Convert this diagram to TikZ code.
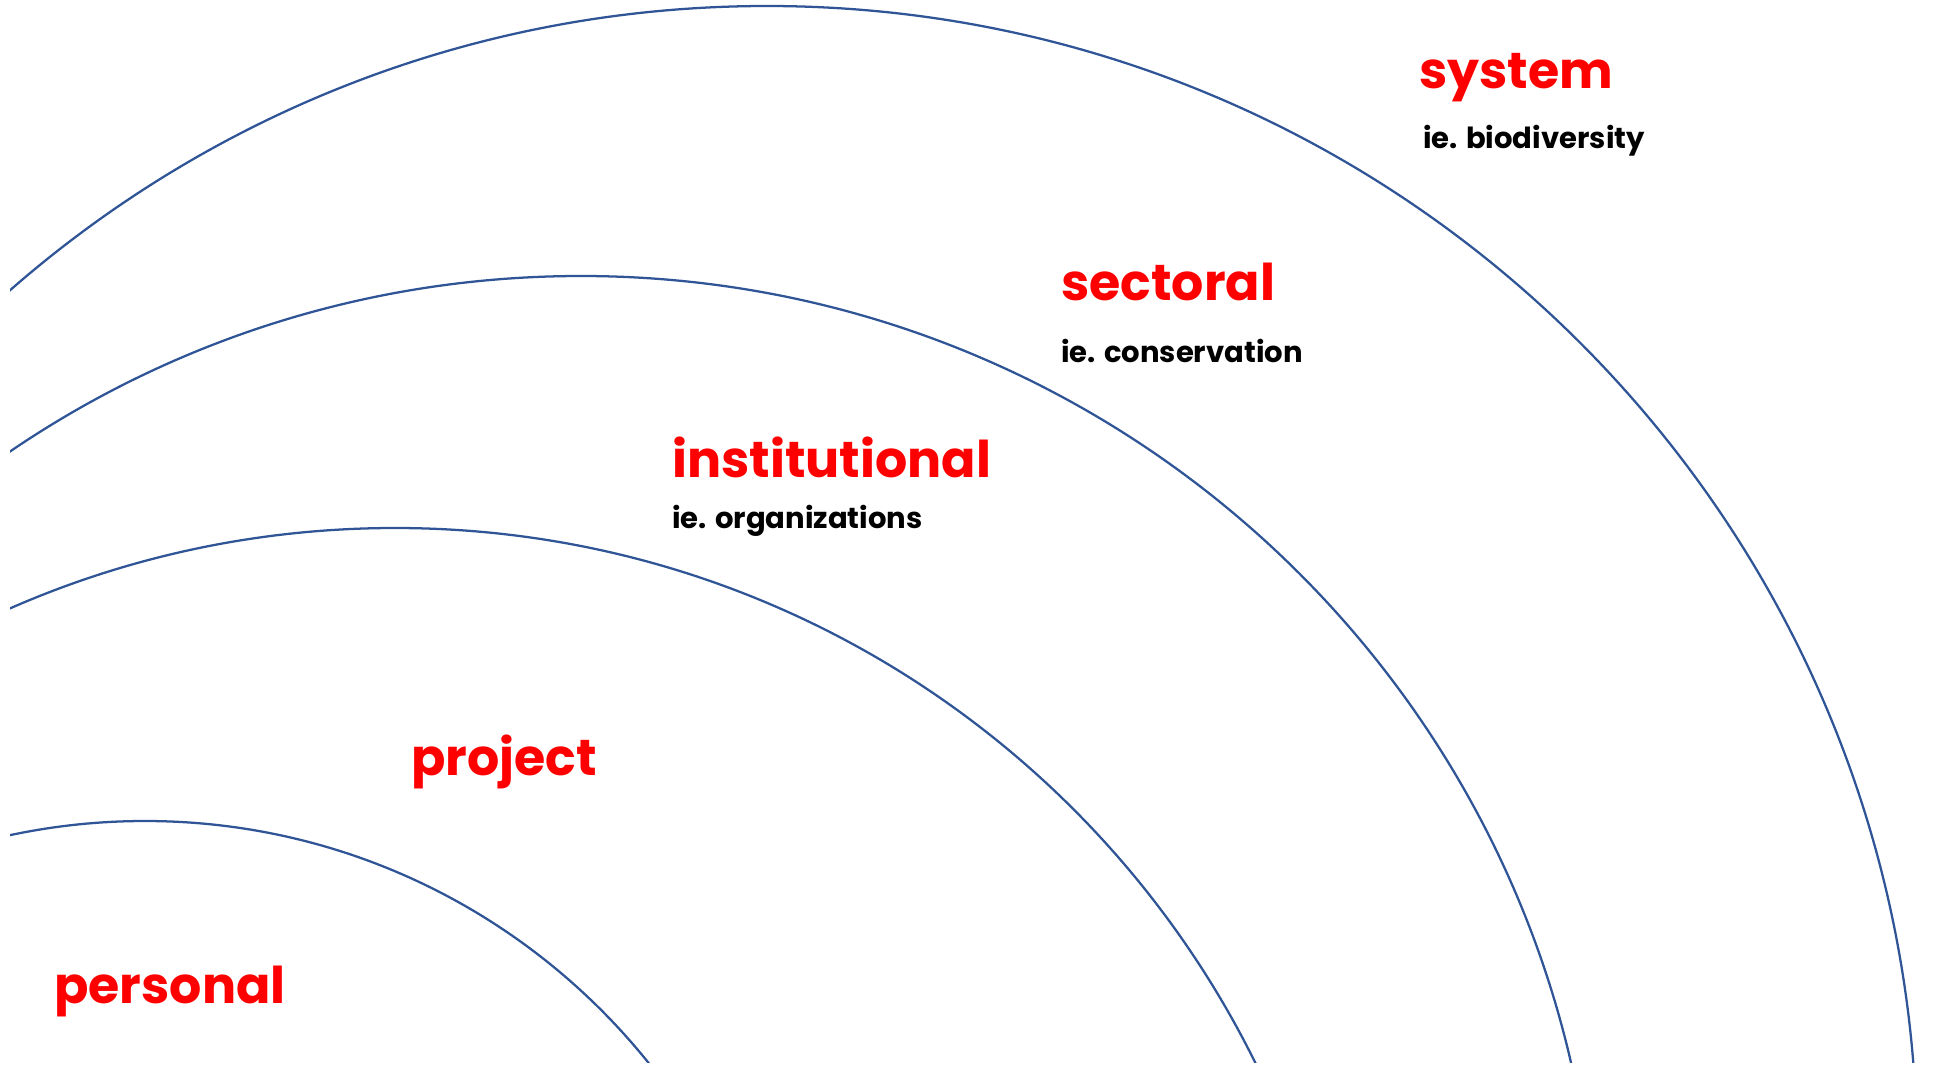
\documentclass[tikz,border=0pt]{standalone}
\usepackage{fontspec}
\setmainfont{Poppins}
\usepackage{tikz}

\definecolor{ringblue}{RGB}{47,85,151}
\tikzset{
  ring/.style={draw=ringblue, line width=1.7pt},
  levelname/.style={anchor=base west, inner sep=0pt, text=red, font=\bfseries\fontsize{38}{40}\selectfont},
  levelex/.style={anchor=base west, inner sep=0pt, text=black, font=\bfseries\fontsize{21.8}{24}\selectfont},
}

\begin{document}
\begin{tikzpicture}[x=0.75pt,y=0.75pt,yscale=-1,xscale=1]
\useasboundingbox (0,0) rectangle (1940,1064);

%centres of the rings
\coordinate (c1) at (145,1466);
\coordinate (c2) at (395,1487);
\coordinate (c3) at (581,1292);
\coordinate (c4) at (767,1156);

\begin{scope}
\clip (10,0) rectangle (1940,1062);
%Curve Lines
\draw [ring] (c1) circle [radius=645];
%Curve Lines
\draw [ring] (c2) circle [radius=959];
%Curve Lines
\draw [ring] (c3) circle [radius=1016];
%Curve Lines
\draw [ring] (c4) circle [radius=1150];
\end{scope}

% Text Node
\node (sys) at (1419,88) [levelname] {system};
% Text Node
\node (sysex) at (1423,148) [levelex] {ie. biodiversity};
% Text Node
\node (sect) at (1061,300) [levelname] {sectoral};
% Text Node
\node (sectex) at (1061,362) [levelex] {ie. conservation};
% Text Node
\node (inst) at (672,477) [levelname] {institutional};
% Text Node
\node (instex) at (672,528) [levelex] {ie. organizations};
% Text Node
\node (proj) at (411,775) [levelname] {project};
% Text Node
\node (pers) at (54,1003) [levelname] {personal};

\end{tikzpicture}
\end{document}
